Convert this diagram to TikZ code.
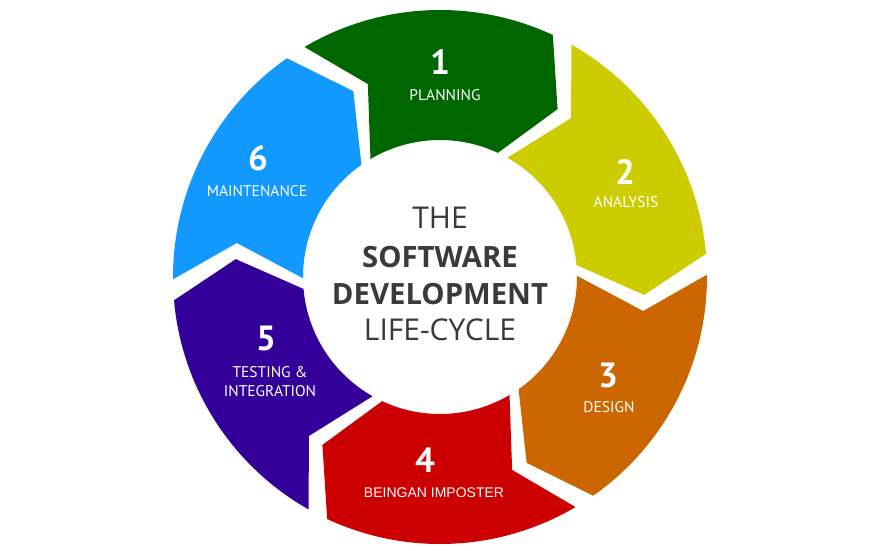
\documentclass[tikz,border=0pt]{standalone}
\usepackage{fontspec}
\setmainfont{PT Sans}
\newfontfamily\arialf{Liberation Sans}
\newfontfamily\ctrfont{Open Sans}
\definecolor{segGreen}{RGB}{0,102,0}
\definecolor{segYellow}{RGB}{204,204,0}
\definecolor{segOrange}{RGB}{204,102,0}
\definecolor{segRed}{RGB}{204,0,0}
\definecolor{segPurple}{RGB}{51,0,153}
\definecolor{segBlue}{RGB}{17,153,255}
\definecolor{centerGray}{RGB}{58,58,58}
\begin{document}
\begin{tikzpicture}[x=1pt,y=1pt,
  num/.style={text=white,font=\fontsize{35}{35}\selectfont\bfseries,inner sep=0pt},
  lab/.style={text=white,font=\fontsize{15.5}{19}\selectfont,align=center,inner sep=0pt},
  ctr/.style={text=centerGray,font=\ctrfont\fontsize{30}{32}\selectfont,inner sep=0pt},
  ctrb/.style={ctr,font=\ctrfont\fontsize{29.3}{31}\selectfont\bfseries}]
\useasboundingbox[fill=white] (-440,-273) rectangle (440,277);
\foreach \c/\col in {90/segGreen,30/segYellow,-30/segOrange,-90/segRed,-150/segPurple,150/segBlue}{
  \pgfmathsetmacro\ta{\c+30.5}
  \pgfmathsetmacro\tn{\c+20.5}
  \pgfmathsetmacro\ho{\c-25}
  \pgfmathsetmacro\tp{\c-35}
  \fill[\col] (\ta:267pt) arc[start angle=\ta, end angle=\ho, radius=267pt]
     -- (\tp:205pt) -- (\ho:137pt)
     arc[start angle=\ho, end angle=\ta, radius=137pt]
     -- (\tn:206pt) -- cycle;
}
% segment texts
\node[num] (n1) at (0,215) {1};
\node[lab] (l1) at (5,182) {PLANNING};
\node[num] (n2) at (185,105) {2};
\node[lab] (l2) at (186,75) {ANALYSIS};
\node[num] (n3) at (168,-98) {3};
\node[lab] (l3) at (169,-130) {DESIGN};
\node[num] (n4) at (-15,-183) {4};
\node[lab,font=\arialf\fontsize{14}{17}\selectfont] (l4) at (-6,-216) {BEINGAN IMPOSTER};
\node[num] (n5) at (-174,-61) {5};
\node[lab] (l5) at (-170,-105) {TESTING \&\\INTEGRATION};
\node[num] (n6) at (-182,119) {6};
\node[lab] (l6) at (-183,86) {MAINTENANCE};
% centre title
\node[ctr] (t1) at (0,59) {THE};
\node[ctrb] (t2) at (0,20) {SOFTWARE};
\node[ctrb] (t3) at (0,-17) {DEVELOPMENT};
\node[ctr] (t4) at (0,-53) {LIFE-CYCLE};
\end{tikzpicture}
\end{document}
